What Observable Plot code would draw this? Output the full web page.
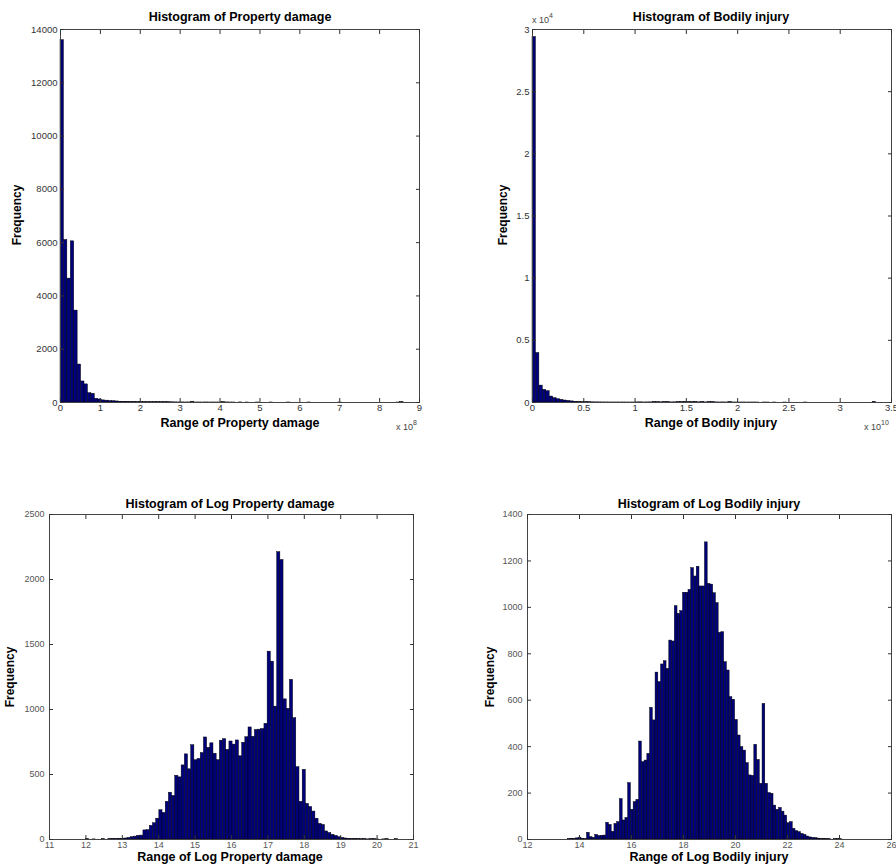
<!DOCTYPE html>
<html>
<head>
<meta charset="utf-8">
<script src="https://cdn.jsdelivr.net/npm/d3@7"></script>
<script src="https://cdn.jsdelivr.net/npm/@observablehq/plot@0.6"></script>
<style>
  body { margin: 0; background: #fff; }
  #root { position: relative; width: 896px; height: 864px; overflow: hidden;
          font-family: Arial, "Liberation Sans", Helvetica, sans-serif; }
  .panel { position: absolute; }
  .lbl { position: absolute; font-weight: bold; font-size: 12.5px; color: #000;
         white-space: nowrap; transform: translate(-50%, -50%); }
  .rot { font-size: 12px; transform: translate(-50%, -50%) rotate(-90deg); }
  .exp { position: absolute; font-size: 9px; color: #444; white-space: nowrap; }
  .exp sup { font-size: 7px; position: relative; top: -1px; }
</style>
</head>
<body>
<div id="root"></div>
<script>
// ---------- DATA ----------
// Histogram of Property damage (x in units of 1e8)
const propertyBinStart = 0, propertyBinWidth = 0.086;
const propertyCounts = [13600,6100,4650,6050,3450,1425,790,680,350,325,
  140,115,80,70,55,50,40,30,28,25,
  20,18,15,15,12,12,10,12,15,10,
  12,10,8,5,3,4,2,3,15,2,
  2,1,3,1,2,1,2,10,4,1,
  1,0,2,0,1,0,0,1,0,0,
  0,1,0,0,0,0,1,0,0,0,
  0,0,1,0,0,0,0,0,0,0,
  0,1,0,0,0,0,0,0,0,0,
  0,0,0,0,0,0,0,0,1,10];
const propertyXTicks = [0,1,2,3,4,5,6,7,8,9];
const propertyYTicks = [0,2000,4000,6000,8000,10000,12000,14000];

// Histogram of Bodily injury (x in units of 1e10)
const bodilyBinStart = 0, bodilyBinWidth = 0.0335;
const bodilyCounts = [29400,3980,1360,1020,910,480,350,265,215,160,
  130,90,60,40,30,25,20,15,12,10,
  8,6,5,4,5,3,4,3,2,3,
  10,15,5,8,12,25,20,15,20,25,
  10,15,20,30,40,25,20,35,15,30,
  10,25,30,10,5,8,3,30,5,3,
  2,4,1,2,3,1,0,2,1,0,
  1,0,0,1,0,0,0,0,0,1,
  0,0,0,0,0,0,0,0,0,0,
  0,0,0,0,0,0,0,0,0,40];
const bodilyXTicks = [0,0.5,1,1.5,2,2.5,3,3.5];
const bodilyYTicks = [0,5000,10000,15000,20000,25000,30000];

// Histogram of Log Property damage
const logPropertyBinStart = 11.83, logPropertyBinWidth = 0.0875;
const logPropertyCounts = [0,0,3,0,1,0,0,2,0,3,
  5,4,6,5,8,12,18,22,28,30,
  70,72,105,125,160,225,205,290,360,335,
  490,478,570,655,540,725,610,620,665,785,
  705,740,660,610,760,772,690,754,730,762,
  640,744,787,862,790,842,845,850,890,1445,
  1368,1022,2210,2150,1078,1005,1228,933,556,290,
  536,274,250,215,160,120,112,62,50,36,
  28,18,13,8,6,4,5,3,2,3,
  1,2,3,1,0,1,2,0,0,2];
const logPropertyXTicks = [11,12,13,14,15,16,17,18,19,20,21];
const logPropertyYTicks = [0,500,1000,1500,2000,2500];

// Histogram of Log Bodily injury
const logBodilyBinStart = 13.55, logBodilyBinWidth = 0.1055;
const logBodilyCounts = [2,3,3,5,8,3,2,29,10,7,
  20,15,16,17,72,63,33,67,75,174,
  82,93,243,128,161,171,422,333,340,369,
  567,513,719,678,754,768,735,857,853,1005,
  972,984,1063,1063,1075,1169,1133,1175,1090,1090,
  1280,1101,1098,1061,1018,890,893,764,728,613,
  602,515,448,398,383,329,276,274,408,343,
  240,584,240,200,197,146,128,136,120,103,
  70,75,46,36,32,24,20,13,9,7,
  6,4,3,3,2,1,0,1,2,1];
const logBodilyXTicks = [12,14,16,18,20,22,24,26];
const logBodilyYTicks = [0,200,400,600,800,1000,1200,1400];

// ---------- DRAW ----------
const root = document.getElementById("root");

function histPanel(cfg) {
  const bins = cfg.counts.map((c, i) => ({
    x1: cfg.start + i * cfg.binWidth,
    x2: cfg.start + (i + 1) * cfg.binWidth,
    y: c
  }));
  const tickColor = "#333";
  const chart = Plot.plot({
    width: cfg.w, height: cfg.h,
    marginLeft: cfg.ml, marginRight: cfg.mr, marginTop: cfg.mt, marginBottom: cfg.mb,
    x: {domain: cfg.xDomain},
    y: {domain: cfg.yDomain},
    style: {fontFamily: "Arial, 'Liberation Sans', sans-serif", fontSize: cfg.fs + "px",
            background: "transparent", overflow: "visible"},
    marks: [
      Plot.rectY(bins, {x1: "x1", x2: "x2", y: "y", fill: "#00007a", stroke: "#000", strokeWidth: 0.45}),
      Plot.frame({stroke: "#444"}),
      Plot.axisX({anchor: "bottom", ticks: cfg.xTicks, tickSize: -4, fill: "none", stroke: tickColor, label: null}),
      Plot.axisX({anchor: "top", ticks: cfg.xTicks, tickSize: -4, fill: "none", stroke: tickColor, label: null}),
      Plot.axisY({anchor: "left", ticks: cfg.yTicks, tickSize: -4, fill: "none", stroke: tickColor, label: null}),
      Plot.axisY({anchor: "right", ticks: cfg.yTicks, tickSize: -4, fill: "none", stroke: tickColor, label: null}),
      Plot.axisX({anchor: "bottom", ticks: cfg.xTicks, tickSize: 0, tickPadding: cfg.xPad,
                  tickFormat: cfg.xFmt, fill: cfg.tc, label: null}),
      Plot.axisY({anchor: "left", ticks: cfg.yTicks, tickSize: 0, tickPadding: cfg.yPad,
                  tickFormat: cfg.yFmt, fill: cfg.tc, label: null})
    ]
  });
  const wrap = document.createElement("div");
  wrap.className = "panel";
  wrap.style.left = cfg.left + "px";
  wrap.style.top = cfg.top + "px";
  wrap.appendChild(chart);
  root.appendChild(wrap);
}

function addLabel(text, x, y, rotate) {
  const d = document.createElement("div");
  d.className = "lbl" + (rotate ? " rot" : "");
  d.textContent = text;
  d.style.left = x + "px";
  d.style.top = y + "px";
  root.appendChild(d);
}
function addExp(power, x, y) {
  const d = document.createElement("div");
  d.className = "exp";
  d.innerHTML = "x 10<sup>" + power + "</sup>";
  d.style.left = x + "px";
  d.style.top = y + "px";
  root.appendChild(d);
}

const str = d => String(d);

histPanel({left: 0, top: 0, w: 448, h: 440, ml: 60, mr: 29, mt: 29, mb: 38,
  counts: propertyCounts, start: propertyBinStart, binWidth: propertyBinWidth,
  xDomain: [0, 9], yDomain: [0, 14000], xTicks: propertyXTicks, yTicks: propertyYTicks,
  xFmt: str, yFmt: str, xPad: 2, yPad: 3, fs: 9.5, tc: "#333"});
histPanel({left: 448, top: 0, w: 448, h: 440, ml: 84, mr: 5, mt: 29, mb: 38,
  counts: bodilyCounts, start: bodilyBinStart, binWidth: bodilyBinWidth,
  xDomain: [0, 3.5], yDomain: [0, 30000], xTicks: bodilyXTicks, yTicks: bodilyYTicks,
  xFmt: str, yFmt: d => String(d / 10000), xPad: 2, yPad: 3, fs: 9.5, tc: "#333"});
histPanel({left: 0, top: 490, w: 448, h: 374, ml: 49, mr: 35, mt: 24, mb: 25,
  counts: logPropertyCounts, start: logPropertyBinStart, binWidth: logPropertyBinWidth,
  xDomain: [11, 21], yDomain: [0, 2500], xTicks: logPropertyXTicks, yTicks: logPropertyYTicks,
  xFmt: str, yFmt: str, xPad: 2, yPad: 5, fs: 9, tc: "#555"});
histPanel({left: 448, top: 490, w: 448, h: 374, ml: 79, mr: 5, mt: 24, mb: 25,
  counts: logBodilyCounts, start: logBodilyBinStart, binWidth: logBodilyBinWidth,
  xDomain: [12, 26], yDomain: [0, 1400], xTicks: logBodilyXTicks, yTicks: logBodilyYTicks,
  xFmt: str, yFmt: str, xPad: 2, yPad: 5, fs: 9, tc: "#555"});

// titles and axis labels
addLabel("Histogram of Property damage", 240, 16.5);
addLabel("Range of Property damage", 240, 423);
addLabel("Frequency", 17, 215, true);
addExp(8, 396, 420);

addLabel("Histogram of Bodily injury", 711, 16.5);
addLabel("Range of Bodily injury", 711, 423);
addLabel("Frequency", 503, 215, true);
addExp(4, 532, 13);
addExp(10, 864, 420);

addLabel("Histogram of Log Property damage", 230, 504);
addLabel("Range of Log Property damage", 230, 857);
addLabel("Frequency", 10, 677, true);

addLabel("Histogram of Log Bodily injury", 709, 504);
addLabel("Range of Log Bodily injury", 709, 857);
addLabel("Frequency", 490, 677, true);
</script>
</body>
</html>
